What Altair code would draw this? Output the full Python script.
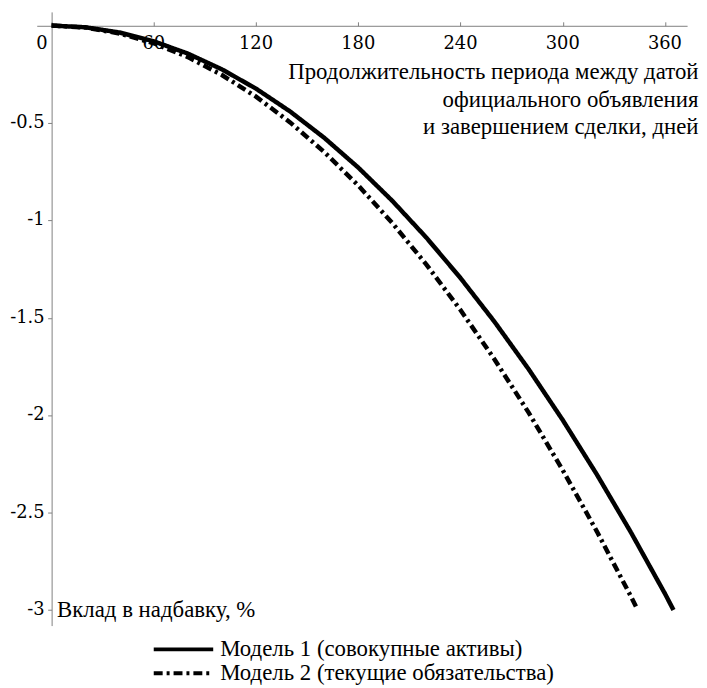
import altair as alt
import pandas as pd

# Model 1 (total assets)
days_m1 = [0, 20, 40, 60, 80, 100, 120, 140, 160, 180, 200, 220, 240, 260, 280, 300, 320, 340, 360, 365]
vals_m1 = [0, -0.009, -0.036, -0.081, -0.144, -0.225, -0.324, -0.441, -0.576, -0.729, -0.900,
           -1.089, -1.296, -1.521, -1.764, -2.025, -2.304, -2.601, -2.916, -3.0]

# Model 2 (current liabilities)
days_m2 = [0, 20, 40, 60, 80, 100, 120, 140, 160, 180, 200, 220, 240, 260, 280, 300, 320, 340, 344]
vals_m2 = [0, -0.010, -0.041, -0.091, -0.162, -0.254, -0.365, -0.497, -0.649, -0.821, -1.014,
           -1.227, -1.460, -1.714, -1.987, -2.282, -2.596, -2.930, -3.0]

series_names = ["Модель 1 (совокупные активы)", "Модель 2 (текущие обязательства)"]
x_ticks = [0, 60, 120, 180, 240, 300, 360]
x_labels = ["0", "60", "120", "180", "240", "300", "360"]
y_ticks = [-0.5, -1, -1.5, -2, -2.5, -3]
y_labels = ["-0.5", "-1", "-1.5", "-2", "-2.5", "-3"]
x_title = ["Продолжительность периода между датой", "официального объявления", "и завершением сделки, дней"]
y_title = "Вклад в надбавку, %"

rows = []
for d, v in zip(days_m1, vals_m1):
    rows.append({"day": d, "val": v, "model": series_names[0]})
for d, v in zip(days_m2, vals_m2):
    rows.append({"day": d, "val": v, "model": series_names[1]})
df = pd.DataFrame(rows)

xlab_df = pd.DataFrame({"day": x_ticks, "label": x_labels, "val": [0] * len(x_ticks)})
ylab_df = pd.DataFrame({"val": y_ticks, "label": y_labels, "day": [0] * len(y_ticks)})

FONT = "Liberation Serif, DejaVu Serif"
TICK_FONT = "DejaVu Serif"
FS_TICK = 18
FS_TEXT = 23

xscale = alt.Scale(domain=[-8.7, 373], nice=False, zero=False)
yscale = alt.Scale(domain=[-3.08, 0.07], nice=False, zero=False)

lines = alt.Chart(df).mark_line(strokeWidth=4.5, strokeCap="butt", color="black").encode(
    x=alt.X("day:Q", scale=xscale,
            axis=alt.Axis(orient="top", offset=-14, values=x_ticks, grid=False, labels=False,
                          tickSize=4, domainColor="#808080", tickColor="#808080",
                          title=x_title, titleFont=FONT, titleFontSize=FS_TEXT,
                          titleFontWeight="normal", titleColor="black", titleAlign="right",
                          titleBaseline="alphabetic", titleX=667, titleY=53,
                          titleLineHeight=28, titleAngle=0)),
    y=alt.Y("val:Q", scale=yscale,
            axis=alt.Axis(orient="left", offset=-15, values=y_ticks, grid=False, labels=False,
                          tickSize=4, domainColor="#808080", tickColor="#808080",
                          title=y_title, titleFont=FONT, titleFontSize=FS_TEXT,
                          titleFontWeight="normal", titleColor="black", titleAngle=0,
                          titleAlign="left", titleBaseline="middle", titleX=5, titleY=603)),
    strokeDash=alt.StrokeDash("model:N",
                              scale=alt.Scale(domain=series_names, range=[[1, 0], [9, 4, 3, 4]]),
                              legend=alt.Legend(title=None, orient="none", legendX=116, legendY=631,
                                                symbolType="stroke", symbolSize=3600,
                                                symbolStrokeWidth=4, symbolStrokeColor="black",
                                                labelFont=FONT, labelFontSize=FS_TEXT,
                                                labelColor="black", labelLimit=500, labelOffset=5,
                                                rowPadding=0, clipHeight=24, padding=0)),
    detail="model:N",
)

xlab = alt.Chart(xlab_df).transform_filter("datum.day > 0").mark_text(
    font=TICK_FONT, fontSize=FS_TICK, align="center", baseline="top", dy=10, color="black"
).encode(x=alt.X("day:Q", scale=xscale), y=alt.Y("val:Q", scale=yscale), text="label:N")

xlab0 = alt.Chart(xlab_df).transform_filter("datum.day == 0").mark_text(
    font=TICK_FONT, fontSize=FS_TICK, align="right", baseline="top", dy=10, dx=-4, color="black"
).encode(x=alt.X("day:Q", scale=xscale), y=alt.Y("val:Q", scale=yscale), text="label:N")

ylab = alt.Chart(ylab_df).mark_text(
    font=TICK_FONT, fontSize=FS_TICK, align="right", baseline="middle", dx=-7, color="black"
).encode(x=alt.X("day:Q", scale=xscale), y=alt.Y("val:Q", scale=yscale), text="label:N")

chart = alt.layer(lines, xlab, xlab0, ylab).properties(
    width=656, height=619,
    autosize=alt.AutoSizeParams(type="none"),
    padding={"left": 29, "top": 1, "right": 12, "bottom": 58},
).configure(font=FONT).configure_view(stroke=None)

chart.save("out.html", embed_options={"renderer": "svg", "actions": False})
